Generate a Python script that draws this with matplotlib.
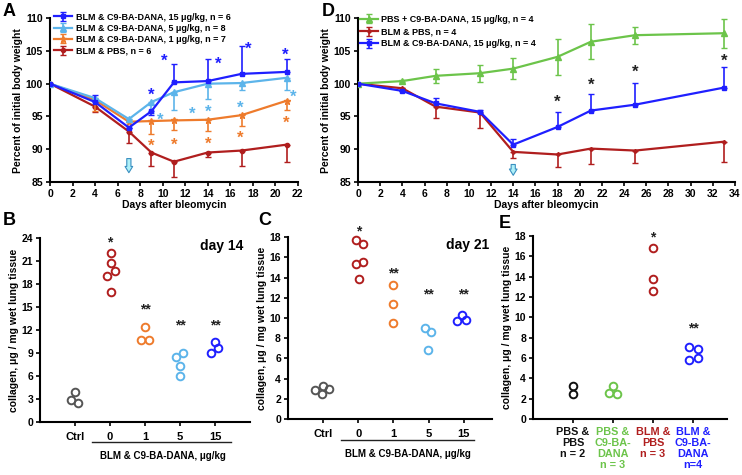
import matplotlib
matplotlib.use("Agg")
import matplotlib.pyplot as plt
import matplotlib.transforms as mtransforms

plt.rcParams['font.family'] = ['Liberation Sans', 'DejaVu Sans']
plt.rcParams['font.weight'] = 'bold'
plt.rcParams['axes.labelweight'] = 'bold'

# Colours
c_blue = "#1f1fff"
c_lblue = "#5cb4ea"
c_orange = "#ee7b2c"
c_red = "#b01e1e"
c_green = "#6cc44a"
c_grey = "#555555"

# ---------------- Panel A data ----------------
days_a = [0, 4, 7, 9, 11, 14, 17, 21]
a_blue15 = [100, 97.2, 93.3, 95.8, 100.2, 100.4, 101.5, 101.8]
a_blue15_up = [0, 1.1, 0, 0, 2.8, 3.3, 4.2, 2.0]
a_blue15_lo = [0, 0, 0, 0.6, 0, 0, 0, 0]
a_lblue5 = [100, 97.8, 94.6, 97.2, 98.7, 100.0, 100.1, 100.9]
a_lblue5_lo = [0, 0, 0, 1.7, 2.7, 2.4, 1.0, 1.9]
a_orange1 = [100, 97.5, 94.2, 94.3, 94.4, 94.5, 95.2, 97.4]
a_orange1_lo = [0, 1.7, 0, 2.0, 1.4, 1.7, 1.6, 1.4]
a_red = [100, 96.5, 92.7, 89.5, 88.1, 89.5, 89.8, 90.7]
a_red_lo = [0, 0.8, 1.7, 2.1, 2.4, 0.7, 2.3, 2.7]
a_labels = ["BLM & C9-BA-DANA, 15 μg/kg, n = 6",
            "BLM & C9-BA-DANA, 5 μg/kg, n = 8",
            "BLM & C9-BA-DANA, 1 μg/kg, n = 7",
            "BLM & PBS, n = 6"]
# significance stars (day, value)
a_star_blue = [(8.95, 98.7), (10.1, 104.0), (14.9, 103.5), (17.6, 105.7), (20.9, 104.8)]
a_star_lblue = [(9.8, 95.0), (12.6, 95.9), (14.0, 96.1), (16.9, 96.8), (21.6, 98.5)]
a_star_orange = [(9.0, 91.0), (11.0, 91.1), (14.0, 91.3), (16.9, 92.2), (21.0, 94.5)]

# ---------------- Panel D data ----------------
days_d = [0, 4, 7, 11, 14, 18, 21, 25, 33]
d_green = [100, 100.4, 101.2, 101.6, 102.3, 104.1, 106.4, 107.4, 107.7]
d_green_err = [0, 0.2, 1.1, 1.3, 1.6, 2.7, 2.7, 1.3, 2.2]
d_red = [100, 99.3, 96.5, 95.6, 89.6, 89.2, 90.1, 89.8, 91.15]
d_red_lo = [0, 0, 1.8, 2.4, 1.0, 1.9, 2.4, 1.95, 3.05]
d_blue = [100, 98.9, 97.0, 95.7, 90.7, 93.4, 95.9, 96.8, 99.4]
d_blue_up = [0, 0, 0.75, 0.3, 0.85, 2.3, 2.5, 3.3, 3.2]
d_labels = ["PBS + C9-BA-DANA, 15 μg/kg, n = 4",
            "BLM & PBS, n = 4",
            "BLM & C9-BA-DANA, 15 μg/kg, n = 4"]
d_stars = [(18, 97.6), (21, 100.3), (25, 102.3), (33, 104.0)]

# ---------------- Panel B data (day 14) ----------------
b_cats = ["Ctrl", "0", "1", "5", "15"]
b_vals = [[3.9, 2.9, 2.5],
          [22.1, 20.8, 19.7, 19.0, 17.0],
          [12.4, 10.65, 10.7],
          [8.96, 8.5, 7.26, 5.96],
          [10.4, 9.65, 9.04]]
b_jit = [[0.0, -0.12, 0.10],
         [0.03, 0.03, 0.14, -0.08, 0.03],
         [0.0, -0.1, 0.11],
         [0.1, -0.1, 0.0, 0.0],
         [0.0, 0.1, -0.12]]
b_stars = ["", "*", "**", "**", "**"]
b_star_y = [0, 23.8, 15.0, 13.0, 12.9]

# ---------------- Panel C data (day 21) ----------------
c_vals = [[2.89, 3.28, 3.0, 2.5],
          [17.67, 17.28, 15.31, 15.5, 13.87],
          [13.28, 11.4, 9.5],
          [9.05, 8.56, 6.82],
          [9.7, 10.3, 9.8]]
c_jit = [[-0.22, 0.0, 0.18, -0.03],
         [-0.07, 0.14, -0.07, 0.14, 0.03],
         [0.0, 0.0, 0.0],
         [-0.11, 0.08, -0.02],
         [-0.19, -0.05, 0.07]]
c_stars = ["", "*", "**", "**", "**"]
c_star_y = [0, 18.8, 14.7, 12.6, 12.6]

# ---------------- Panel E data ----------------
e_cats = ["PBS &\nPBS\nn = 2", "PBS &\nC9-BA-\nDANA\nn = 3",
          "BLM &\nPBS\nn = 3", "BLM &\nC9-BA-\nDANA\nn=4"]
e_vals = [[3.2, 2.42],
          [3.27, 2.55, 2.45],
          [16.8, 13.76, 12.58],
          [7.12, 6.9, 6.01, 5.78]]
e_jit = [[0.0, 0.0],
         [0.0, -0.1, 0.11],
         [0.0, 0.0, 0.0],
         [-0.09, 0.12, 0.12, -0.09]]
e_stars = ["", "", "*", "**"]
e_star_y = [0, 0, 18.1, 9.2]

tick_fs = 7.5
lab_fs = 7.5

fig = plt.figure(figsize=(7.42, 4.75), dpi=100)


def style_axes(ax):
    for s in ["top", "right"]:
        ax.spines[s].set_visible(False)
    for s in ["left", "bottom"]:
        ax.spines[s].set_linewidth(1.5)
    ax.tick_params(direction="out", length=3, width=1.2, labelsize=tick_fs, pad=2)
    for t in ax.get_xticklabels() + ax.get_yticklabels():
        t.set_fontweight("bold")


def star(ax, x, y, s, color, fs):
    # asterisk glyph sits high in its box, so nudge it down a little
    ax.annotate(s, (x, y), xytext=(0, -0.2 * fs), textcoords="offset points",
                color=color, fontsize=fs, ha="center", va="center", annotation_clip=False)


def arrow(ax, x, y0, y1):
    ax.annotate("", xy=(x, y1), xytext=(x, y0),
                arrowprops=dict(arrowstyle="simple,head_width=0.55,head_length=0.45,tail_width=0.3",
                                fc="#aef0f8", ec="#3a8fc0", lw=0.8))


# ---------------- Panel A ----------------
axA = fig.add_axes([0.0674, 0.6168, 0.334, 0.345])
axA.errorbar(days_a, a_red, yerr=[a_red_lo, [0] * 8], color=c_red, marker="o", ms=3,
             lw=1.6, capsize=2, elinewidth=1.2, label=a_labels[3], zorder=2)
axA.errorbar(days_a, a_orange1, yerr=[a_orange1_lo, [0] * 8], color=c_orange, marker="*", ms=5,
             lw=1.6, capsize=2, elinewidth=1.2, label=a_labels[2], zorder=3)
axA.errorbar(days_a, a_lblue5, yerr=[a_lblue5_lo, [0] * 8], color=c_lblue, marker="^", ms=4,
             lw=1.6, capsize=2, elinewidth=1.2, label=a_labels[1], zorder=4)
axA.errorbar(days_a, a_blue15, yerr=[a_blue15_lo, a_blue15_up], color=c_blue, marker="s", ms=3.5,
             lw=1.6, capsize=2, elinewidth=1.2, label=a_labels[0], zorder=5)
for (x, y) in a_star_blue:
    star(axA, x, y, "*", c_blue, 12)
for (x, y) in a_star_lblue:
    star(axA, x, y, "*", c_lblue, 12)
for (x, y) in a_star_orange:
    star(axA, x, y, "*", c_orange, 12)
arrow(axA, 7, 89.0, 86.0)
axA.set_xlim(0, 22)
axA.set_ylim(85, 110)
axA.set_xticks(range(0, 23, 2))
axA.set_yticks(range(85, 111, 5))
axA.set_xlabel("Days after bleomycin", fontsize=lab_fs, labelpad=1)
axA.set_ylabel("Percent of initial body weight", fontsize=lab_fs, labelpad=2)
h, l = axA.get_legend_handles_labels()
axA.legend(h[::-1], l[::-1], loc="upper left", bbox_to_anchor=(0.01, 1.045), frameon=False,
           fontsize=6.5, handlelength=2.0, handletextpad=0.4, labelspacing=0.25,
           borderaxespad=0, borderpad=0.2)
style_axes(axA)

# ---------------- Panel D ----------------
axD = fig.add_axes([0.4825, 0.6168, 0.508, 0.345])
axD.errorbar(days_d, d_green, yerr=d_green_err, color=c_green, marker="^", ms=4,
             lw=1.6, capsize=2, elinewidth=1.2, label=d_labels[0], zorder=3)
axD.errorbar(days_d, d_red, yerr=[d_red_lo, [0] * 9], color=c_red, marker="D", ms=2,
             lw=1.6, capsize=2, elinewidth=1.2, label=d_labels[1], zorder=2)
axD.errorbar(days_d, d_blue, yerr=[[0] * 9, d_blue_up], color=c_blue, marker="s", ms=3.5,
             lw=1.6, capsize=2, elinewidth=1.2, label=d_labels[2], zorder=4)
for (x, y) in d_stars:
    star(axD, x, y, "*", "#222222", 12)
arrow(axD, 14, 88.1, 85.6)
axD.set_xlim(0, 34)
axD.set_ylim(85, 110)
axD.set_xticks(range(0, 35, 2))
axD.set_yticks(range(85, 111, 5))
axD.set_xlabel("Days after bleomycin", fontsize=lab_fs, labelpad=1)
axD.set_ylabel("Percent of initial body weight", fontsize=lab_fs, labelpad=2)
axD.legend(loc="upper left", bbox_to_anchor=(0.0, 1.03), frameon=False,
           fontsize=6.5, handlelength=2.0, handletextpad=0.4, labelspacing=0.35,
           borderaxespad=0, borderpad=0.2)
style_axes(axD)


def scatter_panel(ax, vals, jit, colors, stars, star_y):
    for i, (v, j) in enumerate(zip(vals, jit)):
        xs = [i + 1 + d for d in j]
        ax.plot(xs, v, "o", ms=5.5, mfc="none", mec=colors[i], mew=1.4, clip_on=False)
        if stars[i]:
            star(ax, i + 1, star_y[i], stars[i], "#222222", 10)


coll_label = "collagen, μg / mg wet lung tissue"
cat_colors = [c_grey, c_red, c_orange, c_lblue, c_blue]

# ---------------- Panel B ----------------
axB = fig.add_axes([0.0539, 0.1116, 0.283, 0.387])
scatter_panel(axB, b_vals, b_jit, cat_colors, b_stars, b_star_y)
axB.set_xlim(0, 6)
axB.set_ylim(0, 24)
axB.set_yticks(range(0, 25, 3))
axB.set_xticks(range(1, 6))
axB.set_xticklabels(b_cats)
axB.set_ylabel(coll_label, fontsize=lab_fs, labelpad=2)
axB.text(0.97, 0.995, "day 14", transform=axB.transAxes, fontsize=10, ha="right", va="top")
style_axes(axB)
axB.tick_params(axis="x", labelsize=8, pad=4)
trB = mtransforms.blended_transform_factory(axB.transData, axB.transAxes)
axB.plot([1.5, 5.45], [-0.11, -0.11], color="#222222", lw=1.0, transform=trB, clip_on=False)
axB.text(3.5, -0.185, "BLM & C9-BA-DANA, μg/kg", transform=trB, fontsize=7,
         ha="center", va="center")

# ---------------- Panel C ----------------
axC = fig.add_axes([0.388, 0.1179, 0.275, 0.383])
scatter_panel(axC, c_vals, c_jit, cat_colors, c_stars, c_star_y)
axC.set_xlim(0, 5.8)
axC.set_ylim(0, 18)
axC.set_yticks(range(0, 19, 2))
axC.set_xticks(range(1, 6))
axC.set_xticklabels(b_cats)
axC.set_ylabel(coll_label, fontsize=lab_fs, labelpad=2)
axC.text(0.985, 0.995, "day 21", transform=axC.transAxes, fontsize=10, ha="right", va="top")
style_axes(axC)
axC.tick_params(axis="x", labelsize=8, pad=4)
trC = mtransforms.blended_transform_factory(axC.transData, axC.transAxes)
axC.plot([1.5, 5.3], [-0.115, -0.115], color="#222222", lw=1.0, transform=trC, clip_on=False)
axC.text(3.4, -0.19, "BLM & C9-BA-DANA, μg/kg", transform=trC, fontsize=7,
         ha="center", va="center")

# ---------------- Panel E ----------------
axE = fig.add_axes([0.7183, 0.1179, 0.2615, 0.385])
e_colors = ["#111111", c_green, c_red, c_blue]
scatter_panel(axE, e_vals, e_jit, e_colors, e_stars, e_star_y)
axE.set_xlim(0, 4.85)
axE.set_ylim(0, 18)
axE.set_yticks(range(0, 19, 2))
axE.set_xticks(range(1, 5))
axE.set_xticklabels(e_cats, linespacing=1.12, va="top")
axE.set_ylabel(coll_label, fontsize=lab_fs, labelpad=2)
style_axes(axE)
axE.tick_params(axis="x", labelsize=7.8, pad=3)
for t, c in zip(axE.get_xticklabels(), e_colors):
    t.set_color(c)

# Panel letters
for letter, x, y in [("A", 0.004, 0.975), ("D", 0.433, 0.975), ("B", 0.004, 0.535),
                     ("C", 0.348, 0.535), ("E", 0.672, 0.53)]:
    fig.text(x, y, letter, fontsize=13, fontweight="bold", ha="left", va="center")

fig.savefig("out.png", dpi=100)
